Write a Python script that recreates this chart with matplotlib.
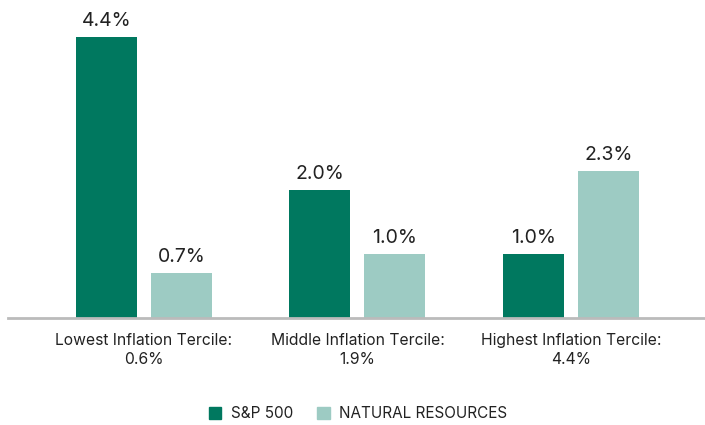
import matplotlib.pyplot as plt
from matplotlib.patches import Patch
import numpy as np

plt.rcParams["font.family"] = ["Inter", "DejaVu Sans"]

categories = ["Lowest Inflation Tercile:\n0.6%", "Middle Inflation Tercile:\n1.9%", "Highest Inflation Tercile:\n4.4%"]
sp500 = [4.4, 2.0, 1.0]
natural_resources = [0.7, 1.0, 2.3]
series_names = ["S&P 500", "NATURAL RESOURCES"]

DARK = "#00785F"
LIGHT = "#9DCBC3"
INK = "#222222"

fig = plt.figure(figsize=(7.05, 4.25), dpi=100)
ax = fig.add_axes([8 / 705, 107 / 425, 697 / 705, 308 / 425])

x = np.arange(len(categories))
w = 0.2857
off = 0.1756
b1 = ax.bar(x - off, sp500, w, color=DARK)
b2 = ax.bar(x + off, natural_resources, w, color=LIGHT)

for bars, vals in ((b1, sp500), (b2, natural_resources)):
    for bar, v in zip(bars, vals):
        ax.annotate(f"{v:.1f}%", (bar.get_x() + bar.get_width() / 2, v),
                    xytext=(0, 5), textcoords="offset points",
                    ha="center", va="bottom", fontsize=14, color=INK)

ax.set_xlim(-0.637, 2.628)
ax.set_ylim(0, 4.82)
for s in ("top", "right", "left"):
    ax.spines[s].set_visible(False)
ax.spines["bottom"].set_color("#BBBBBB")
ax.spines["bottom"].set_linewidth(2)
ax.set_yticks([])
ax.set_xticks(x)
ax.set_xticklabels(categories, fontsize=11.3, color=INK, linespacing=1.3)
ax.tick_params(axis="x", length=0, pad=11)

handles = [Patch(color=DARK), Patch(color=LIGHT)]
fig.legend(handles, series_names, loc="center", bbox_to_anchor=(358 / 705, 11 / 425),
           ncol=2, frameon=False, fontsize=11, handlelength=0.8, handleheight=0.8,
           handletextpad=0.6, columnspacing=1.6, labelcolor=INK)

fig.savefig("out.png", dpi=100, facecolor="white")
